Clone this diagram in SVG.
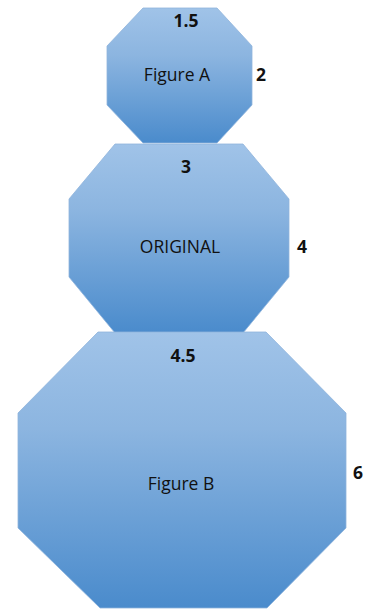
<svg xmlns="http://www.w3.org/2000/svg" width="365" height="610" viewBox="0 0 365 610">
<defs>
<linearGradient id="g" x1="0" y1="0" x2="0" y2="1">
<stop offset="0" stop-color="#a0c3e8"/>
<stop offset="0.35" stop-color="#8cb5e0"/>
<stop offset="1" stop-color="#4a8bcc"/>
</linearGradient>
</defs>
<style>
.oct{fill:url(#g);stroke:#8fb4dc;stroke-width:0.8}
.lbl{font-family:"Open Sans","Liberation Sans",sans-serif;font-size:17.5px;fill:#111;text-anchor:middle}
.dim{font-family:"Open Sans","Liberation Sans",sans-serif;font-size:17.5px;font-weight:bold;fill:#111;text-anchor:middle}
</style>
<rect width="365" height="610" fill="#fff"/>
<g id="figureA">
<polygon class="oct" points="143,8 217,8 252,46 252,105 217,143 143,143 107,105 107,46"/>
<text class="dim" x="186" y="27">1.5</text>
<text class="lbl" x="177" y="81">Figure A</text>
<text class="dim" x="261" y="81">2</text>
</g>
<g id="original">
<polygon class="oct" points="115,144 243,144 289,199 289,277 243,333 115,333 69,277 69,199"/>
<text class="dim" x="186" y="173">3</text>
<text class="lbl" x="180" y="253">ORIGINAL</text>
<text class="dim" x="302" y="253">4</text>
</g>
<g id="figureB">
<polygon class="oct" points="98,332 266,332 346,413 346,528 267,608 100,608 18,528 18,413"/>
<text class="dim" x="183" y="362">4.5</text>
<text class="lbl" x="181" y="490">Figure B</text>
<text class="dim" x="358" y="479">6</text>
</g>
<g id="connectors"/>
</svg>
